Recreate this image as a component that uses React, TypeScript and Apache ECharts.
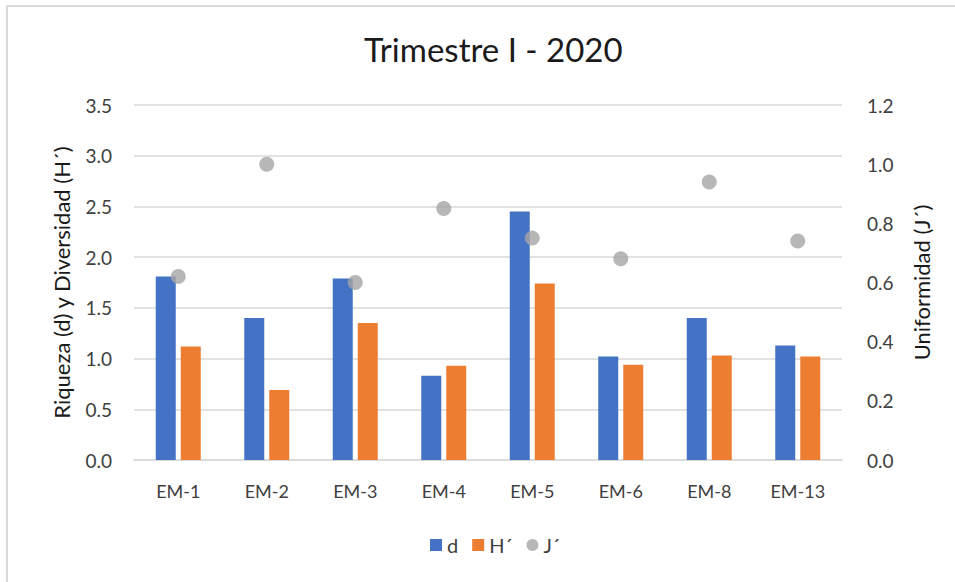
import React, { useEffect, useRef } from "react";
import * as echarts from "echarts";

const categories = ["EM-1", "EM-2", "EM-3", "EM-4", "EM-5", "EM-6", "EM-8", "EM-13"];
const riqueza = [1.81, 1.4, 1.79, 0.83, 2.45, 1.02, 1.4, 1.13];
const diversidad = [1.12, 0.69, 1.35, 0.93, 1.74, 0.94, 1.03, 1.02];
const uniformidad = [0.62, 1.0, 0.6, 0.85, 0.75, 0.68, 0.94, 0.74];

const FONT = "Lato";
const TXT = "#404040";

export default function App() {
  const ref = useRef<HTMLDivElement>(null);
  useEffect(() => {
    if (!ref.current) return;
    const chart = echarts.init(ref.current, undefined, { renderer: "svg" });
    chart.setOption({
      animation: false,
      backgroundColor: "#ffffff",
      textStyle: { fontFamily: FONT },
      graphic: [
        {
          type: "rect",
          shape: { x: 7, y: 6, width: 1000, height: 1000 },
          style: { fill: "none", stroke: "#d9d9d9", lineWidth: 2 },
        },
      ],
      title: {
        text: "Trimestre I - 2020",
        left: 359,
        top: 27,
        textStyle: { fontFamily: FONT, fontSize: 33, fontWeight: "normal", color: "#1a1a1a" },
      },
      legend: {
        bottom: 22,
        left: 425,
        itemWidth: 12,
        itemHeight: 12,
        itemGap: 14,
        textStyle: { fontFamily: FONT, fontSize: 20, color: TXT },
        data: [
          { name: "d", icon: "rect" },
          { name: "H´", icon: "rect" },
          { name: "J´", icon: "circle" },
        ],
      },
      grid: { left: 134, right: 113, top: 105, bottom: 122, containLabel: false },
      xAxis: {
        type: "category",
        data: categories,
        axisLine: { show: true, lineStyle: { color: "#d9d9d9", width: 1.5 } },
        axisTick: { show: false },
        axisLabel: { fontFamily: FONT, fontSize: 18, color: TXT, margin: 22 },
      },
      yAxis: [
        {
          type: "value",
          min: 0,
          max: 3.5,
          interval: 0.5,
          name: "Riqueza (d) y Diversidad (H´)",
          nameLocation: "middle",
          nameGap: 62,
          nameTextStyle: { fontFamily: FONT, fontSize: 22, color: "#1a1a1a" },
          axisLine: { show: false },
          axisTick: { show: false },
          axisLabel: {
            fontFamily: FONT,
            fontSize: 19,
            color: TXT,
            margin: 22,
            formatter: (v: number) => v.toFixed(1),
          },
          splitLine: { lineStyle: { color: "#d9d9d9", width: 1.5 } },
        },
        {
          type: "value",
          min: 0,
          max: 1.2,
          interval: 0.2,
          name: "Uniformidad (J´)",
          nameLocation: "middle",
          nameGap: 68,
          nameRotate: 90,
          nameTextStyle: { fontFamily: FONT, fontSize: 22, color: "#1a1a1a" },
          axisLine: { show: false },
          axisTick: { show: false },
          axisLabel: {
            fontFamily: FONT,
            fontSize: 19,
            color: TXT,
            margin: 25,
            formatter: (v: number) => v.toFixed(1),
          },
          splitLine: { show: false },
        },
      ],
      series: [
        {
          name: "d",
          type: "bar",
          data: riqueza,
          barWidth: 20,
          barGap: "25%",
          itemStyle: { color: "#4472C4" },
        },
        {
          name: "H´",
          type: "bar",
          data: diversidad,
          barWidth: 20,
          barGap: "25%",
          itemStyle: { color: "#ED7D31" },
        },
        {
          name: "J´",
          type: "scatter",
          yAxisIndex: 1,
          data: uniformidad,
          symbol: "circle",
          symbolSize: 15,
          itemStyle: { color: "#A5A5A5" },
        },
      ],
    });
    return () => chart.dispose();
  }, []);
  return (
    <div
      ref={ref}
      style={{ position: "fixed", left: 0, top: 0, width: 955, height: 582 }}
    />
  );
}
